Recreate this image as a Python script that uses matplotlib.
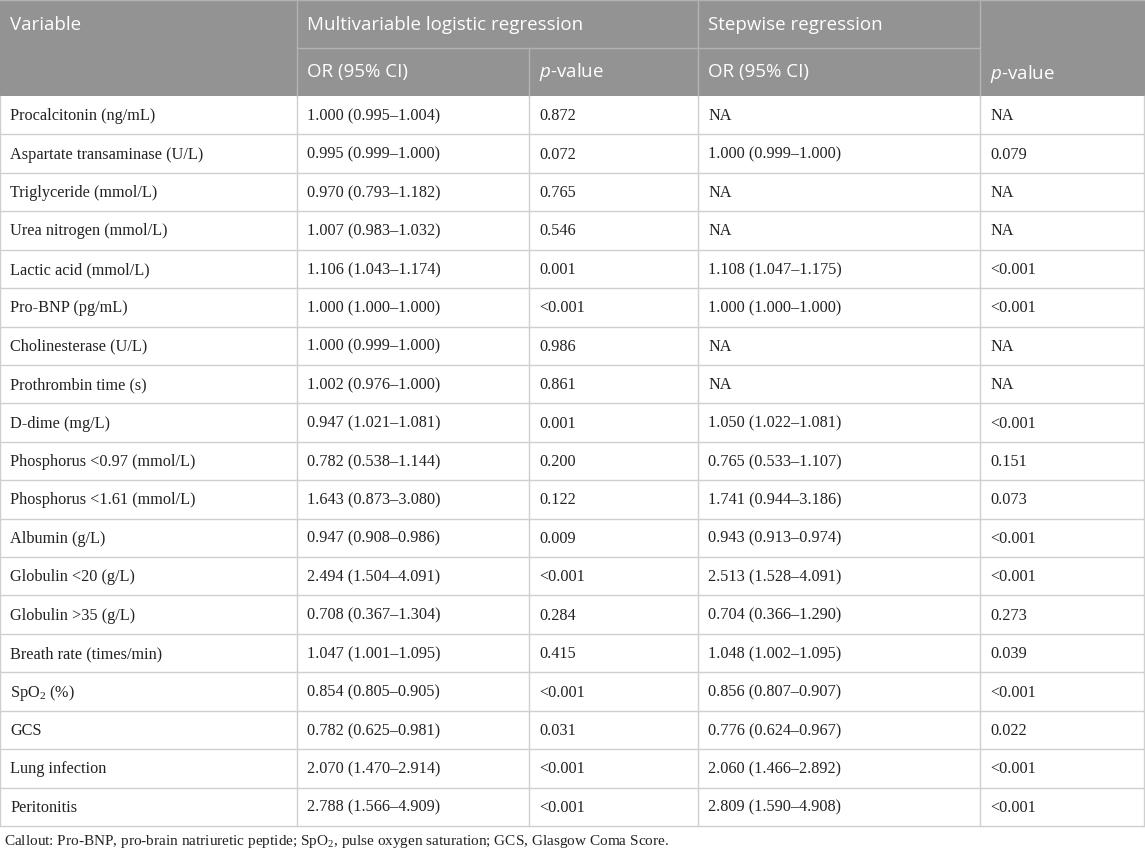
import matplotlib.pyplot as plt
from matplotlib.patches import Rectangle

plt.rcParams['mathtext.fontset'] = 'custom'
plt.rcParams['mathtext.it'] = 'Open Sans:italic'
plt.rcParams['mathtext.rm'] = 'Liberation Serif'

variables = ['Procalcitonin (ng/mL)', 'Aspartate transaminase (U/L)', 'Triglyceride (mmol/L)',
             'Urea nitrogen (mmol/L)', 'Lactic acid (mmol/L)', 'Pro-BNP (pg/mL)',
             'Cholinesterase (U/L)', 'Prothrombin time (s)', 'D-dime (mg/L)',
             'Phosphorus <0.97 (mmol/L)', 'Phosphorus <1.61 (mmol/L)', 'Albumin (g/L)',
             'Globulin <20 (g/L)', 'Globulin >35 (g/L)', 'Breath rate (times/min)',
             'SpO$_\\mathregular{2}$ (%)', 'GCS', 'Lung infection', 'Peritonitis']
multi_or = ['1.000 (0.995–1.004)', '0.995 (0.999–1.000)', '0.970 (0.793–1.182)',
            '1.007 (0.983–1.032)', '1.106 (1.043–1.174)', '1.000 (1.000–1.000)',
            '1.000 (0.999–1.000)', '1.002 (0.976–1.000)', '0.947 (1.021–1.081)',
            '0.782 (0.538–1.144)', '1.643 (0.873–3.080)', '0.947 (0.908–0.986)',
            '2.494 (1.504–4.091)', '0.708 (0.367–1.304)', '1.047 (1.001–1.095)',
            '0.854 (0.805–0.905)', '0.782 (0.625–0.981)', '2.070 (1.470–2.914)',
            '2.788 (1.566–4.909)']
multi_p = ['0.872', '0.072', '0.765', '0.546', '0.001', '<0.001', '0.986', '0.861', '0.001',
           '0.200', '0.122', '0.009', '<0.001', '0.284', '0.415', '<0.001', '0.031',
           '<0.001', '<0.001']
step_or = ['NA', '1.000 (0.999–1.000)', 'NA', 'NA', '1.108 (1.047–1.175)',
           '1.000 (1.000–1.000)', 'NA', 'NA', '1.050 (1.022–1.081)', '0.765 (0.533–1.107)',
           '1.741 (0.944–3.186)', '0.943 (0.913–0.974)', '2.513 (1.528–4.091)',
           '0.704 (0.366–1.290)', '1.048 (1.002–1.095)', '0.856 (0.807–0.907)',
           '0.776 (0.624–0.967)', '2.060 (1.466–2.892)', '2.809 (1.590–4.908)']
step_p = ['NA', '0.079', 'NA', 'NA', '<0.001', '<0.001', 'NA', 'NA', '<0.001', '0.151',
          '0.073', '<0.001', '<0.001', '0.273', '0.039', '<0.001', '0.022', '<0.001',
          '<0.001']
callout = ('Callout: Pro-BNP, pro-brain natriuretic peptide; SpO$_\\mathregular{2}$, '
           'pulse oxygen saturation; GCS, Glasgow Coma Score.')

W, H = 1145, 852
fig = plt.figure(figsize=(W / 100, H / 100), dpi=100)
ax = fig.add_axes([0, 0, 1, 1])
ax.set_xlim(0, W)
ax.set_ylim(H, 0)
ax.axis('off')

cols = [0, 297, 529, 698, 980, W - 1]
h1, h2 = 48, 96
row_h = (826 - h2) / len(variables)
head_bg = '#939393'
head_line = '#b3b3b3'
body_line = '#cfcfcf'
sans = 'Open Sans'
serif = 'Liberation Serif'
pad = 10

# header
ax.add_patch(Rectangle((0, 0), W, h2, color=head_bg, lw=0))
ax.plot([cols[1], cols[4]], [h1, h1], color=head_line, lw=1)
for x in [cols[1], cols[3], cols[4]]:
    ax.plot([x, x], [0, h2], color=head_line, lw=1)
ax.plot([cols[2], cols[2]], [h1, h2], color=head_line, lw=1)
ax.plot([0, W], [0, 0], color=head_line, lw=1)

hkw = dict(color='white', fontsize=13.5, family=sans, va='center', ha='left')
ax.text(cols[0] + pad, h1 / 2 + 1, 'Variable', **hkw)
ax.text(cols[1] + pad, h1 / 2 + 1, 'Multivariable logistic regression', **hkw)
ax.text(cols[3] + pad, h1 / 2 + 1, 'Stepwise regression', **hkw)
ax.text(cols[1] + pad, (h1 + h2) / 2, 'OR (95% CI)', **hkw)
ax.text(cols[2] + pad, (h1 + h2) / 2, '$\\it{p}$-value', **hkw)
ax.text(cols[3] + pad, (h1 + h2) / 2, 'OR (95% CI)', **hkw)
ax.text(cols[4] + pad, (h1 + h2) / 2 + 2, '$\\it{p}$-value', **hkw)

# body
bkw = dict(color='#222222', fontsize=11.7, family=serif, va='center', ha='left')
for i, row in enumerate(zip(variables, multi_or, multi_p, step_or, step_p)):
    y0 = h2 + i * row_h
    yc = y0 + row_h / 2 + 1
    for j, val in enumerate(row):
        ax.text(cols[j] + pad, yc, val, **bkw)
    ax.plot([0, W], [y0 + row_h, y0 + row_h], color=body_line, lw=1)

for x in cols:
    ax.plot([x, x], [h2, 826], color=body_line, lw=1)

ax.text(4, 841, callout, color='#222222', fontsize=11, family=serif, va='center', ha='left')

fig.savefig('out.png', dpi=100)
